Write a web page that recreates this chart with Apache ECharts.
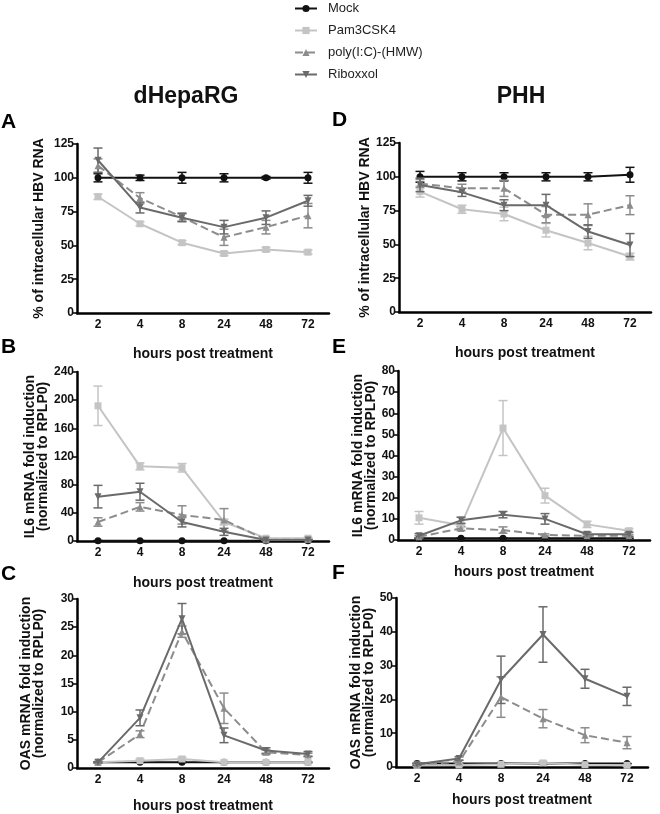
<!DOCTYPE html>
<html><head><meta charset="utf-8">
<script src="https://cdn.jsdelivr.net/npm/echarts@6/dist/echarts.min.js"></script>
<style>html,body{margin:0;padding:0;background:#fff}#c{width:660px;height:814px}</style>
</head><body><div id="c"></div>
<script>
const categories = ['2','4','8','24','48','72'];
const seriesNames = ['Mock','Pam3CSK4','poly(I:C)-(HMW)','Riboxxol'];

// Panel A: dHepaRG, % intracellular HBV RNA
const aMock = [100,100,100,100,100,100];     const aMockErr = [3,2,4,3,1,4];
const aPam  = [86,66,52,44,47,45];           const aPamErr  = [2,1.5,1.5,1.5,1.5,1.5];
const aPoly = [109,85,71,56,63.5,72];        const aPolyErr = [5,4,3,6,5,9];
const aRib  = [113,78,70.5,63.5,70.5,83];    const aRibErr  = [9,4,3,5,5,4];
// Panel D: PHH, % intracellular HBV RNA
const dMock = [100,100,100,100,100,101.5];   const dMockErr = [4,3,3,3,3,5.5];
const dPam  = [89,76,72.5,60.5,51,41];       const dPamErr  = [4,3,5,5,5,2.5];
const dPoly = [95,91.5,91.5,72,72,79];       const dPolyErr = [3,3,6,6,8,7];
const dRib  = [94,88.5,79,79,59.5,49.5];     const dRibErr  = [5,3,4,8,5,8.5];
// Panel B: dHepaRG, IL6
const bMock = [0.5,0.5,0.5,0.5,0.5,0.5];     const bMockErr = [0,0,0,0,0,0];
const bPam  = [192,106,104,27,4,4];          const bPamErr  = [28,5,6,4,1,1];
const bPoly = [27,48.5,37,30,1.5,2];         const bPolyErr = [6,6,13,16,0.5,0.5];
const bRib  = [63,70,27,13,1.5,1.5];         const bRibErr  = [16,12,7,5,0.5,0.5];
// Panel E: PHH, IL6
const eMock = [0.8,0.8,0.8,0.8,0.8,0.8];     const eMockErr = [0,0,0,0,0,0];
const ePam  = [10.5,7,53,21,7.4,4.4];        const ePamErr  = [3,1,13,3.5,1.5,1];
const ePoly = [1.5,5.5,4.7,2.4,2,2];         const ePolyErr = [0.5,1,1.5,0.5,0.5,0.5];
const eRib  = [2,9.3,12,10,2.7,2.7];         const eRibErr  = [1,1.5,1.5,2.5,1,1];
// Panel C: dHepaRG, OAS
const cMock = [1,1,1,1,1,1];                 const cMockErr = [0,0,0,0,0,0];
const cPam  = [1,1.3,1.6,1.0,1.0,1.0];       const cPamErr  = [0.1,0.3,0.3,0.1,0.1,0.1];
const cPoly = [1,6,24.2,10.6,2.8,2.3];       const cPolyErr = [0.1,0.6,1,2.7,0.4,0.3];
const cRib  = [1,8.9,26.5,5.8,3.1,2.5];      const cRibErr  = [0.1,1.4,2.7,1.3,0.5,0.4];
// Panel F: PHH, OAS
const fMock = [1,1,1,1,1,1];                 const fMockErr = [0,0,0,0,0,0];
const fPam  = [0.5,0.6,0.8,1.2,0.7,0.5];     const fPamErr  = [0.2,0.2,0.3,0.5,0.2,0.2];
const fPoly = [0.8,1.5,20.7,14.3,9.4,7.2];   const fPolyErr = [0.3,0.5,6,2.7,2.2,1.8];
const fRib  = [0.8,2.5,25.8,39.2,26.1,20.9]; const fRibErr  = [0.3,0.5,7,8.2,2.8,2.7];

const panels = [
  {letter:'A', left:77,  top:144, max:125, interval:25, name:'% of intracellular HBV RNA', gap:31, xgap:34, data:[aMock,aPam,aPoly,aRib], err:[aMockErr,aPamErr,aPolyErr,aRibErr]},
  {letter:'B', left:77,  top:372, max:240, interval:40, name:'IL6 mRNA fold induction\n(normalized to RPLP0)', gap:24, xgap:35, data:[bMock,bPam,bPoly,bRib], err:[bMockErr,bPamErr,bPolyErr,bRibErr]},
  {letter:'C', left:77,  top:599, max:30,  interval:5,  name:'OAS mRNA fold induction\n(normalized to RPLP0)', gap:31, xgap:31, data:[cMock,cPam,cPoly,cRib], err:[cMockErr,cPamErr,cPolyErr,cRibErr]},
  {letter:'D', left:399, top:143, max:125, interval:25, name:'% of intracellular HBV RNA', gap:23, xgap:34, data:[dMock,dPam,dPoly,dRib], err:[dMockErr,dPamErr,dPolyErr,dRibErr]},
  {letter:'E', left:398, top:371, max:80,  interval:10, name:'IL6 mRNA fold induction\n(normalized to RPLP0)', gap:16, xgap:25, data:[eMock,ePam,ePoly,eRib], err:[eMockErr,ePamErr,ePolyErr,eRibErr]},
  {letter:'F', left:396, top:598, max:50,  interval:10, name:'OAS mRNA fold induction\n(normalized to RPLP0)', gap:13, xgap:26, data:[fMock,fPam,fPoly,fRib], err:[fMockErr,fPamErr,fPolyErr,fRibErr]}
];

const colors = ['#111111','#c4c4c4','#8c8c8c','#6a6a6a'];
const symbols = ['circle','rect','triangle','triangle'];
const rotates = [0,0,0,180];
const dashes = ['solid','solid','dashed','solid'];
const FONT = 'Liberation Sans, Arial, sans-serif';

const grids = [], xAxes = [], yAxes = [], series = [], errSeries = [];
panels.forEach((p, k) => {
  grids.push({left:p.left, top:p.top, width:252, height:169});
  xAxes.push({
    type:'category', gridIndex:k, data:categories, boundaryGap:true,
    name:'hours post treatment', nameLocation:'middle', nameGap:p.xgap,
    nameTextStyle:{fontFamily:FONT, fontWeight:'bold', fontSize:14, color:'#111'},
    axisLine:{lineStyle:{color:'#000', width:2.5}},
    axisTick:{alignWithLabel:true, length:4, lineStyle:{color:'#000', width:1.5}},
    axisLabel:{fontFamily:FONT, fontWeight:'bold', fontSize:12, color:'#111', margin:6},
    splitLine:{show:false}
  });
  yAxes.push({
    type:'value', gridIndex:k, min:0, max:p.max, interval:p.interval,
    name:p.name, nameLocation:'middle', nameGap:p.gap, nameRotate:90,
    nameTextStyle:{fontFamily:FONT, fontWeight:'bold', fontSize:14, color:'#111', lineHeight:13},
    axisLine:{show:true, lineStyle:{color:'#000', width:2.5}},
    axisTick:{show:true, length:4, lineStyle:{color:'#000', width:1.5}},
    axisLabel:{fontFamily:FONT, fontWeight:'bold', fontSize:12, color:'#111', margin:3},
    splitLine:{show:false}
  });
  p.data.forEach((vals, s) => {
    const errs = p.err[s];
    errSeries.push({
      type:'custom', xAxisIndex:k, yAxisIndex:k, name:seriesNames[s]+' error', z:2 + s,
      clip:false,
      data: vals.map((v,i) => [i, v - errs[i], v + errs[i]]),
      encode:{x:0, y:[1,2]},
      renderItem: function(params, api) {
        const lo = api.coord([api.value(0), api.value(1)]);
        const hi = api.coord([api.value(0), api.value(2)]);
        const w = 4.5;
        const st = {stroke:colors[s], lineWidth:1.5};
        return {type:'group', children:[
          {type:'line', shape:{x1:lo[0], y1:lo[1], x2:hi[0], y2:hi[1]}, style:st},
          {type:'line', shape:{x1:lo[0]-w, y1:lo[1], x2:lo[0]+w, y2:lo[1]}, style:st},
          {type:'line', shape:{x1:hi[0]-w, y1:hi[1], x2:hi[0]+w, y2:hi[1]}, style:st}
        ]};
      }
    });
    series.push({
      type:'line', xAxisIndex:k, yAxisIndex:k, name:seriesNames[s], data:vals,
      symbol:symbols[s], symbolSize:7, symbolRotate:rotates[s], z:3 + s,
      lineStyle:{color:colors[s], width:2, type:dashes[s]},
      itemStyle:{color:colors[s]}, showSymbol:true, animation:false, clip:false
    });
  });
});

const titles = [
  {text:'dHepaRG', left:181, top:80, textAlign:'center', textStyle:{fontFamily:FONT, fontWeight:'bold', fontSize:23, color:'#111'}},
  {text:'PHH', left:516, top:80, textAlign:'center', textStyle:{fontFamily:FONT, fontWeight:'bold', fontSize:23, color:'#111'}}
];
const letterPos = [[1,112],[1,337],[1,564],[332,110],[332,337],[332,563]];
panels.forEach((p,k) => {
  titles.push({text:p.letter, left:letterPos[k][0], top:letterPos[k][1], padding:0, textStyle:{fontFamily:FONT, fontWeight:'bold', fontSize:21, color:'#000'}});
});

const chart = echarts.init(document.getElementById('c'), null, {renderer:'canvas'});
chart.setOption({
  animation:false,
  backgroundColor:'#fff',
  title:titles,
  legend:{
    orient:'vertical', left:294, top:2, padding:0, itemGap:9, itemWidth:22, itemHeight:9,
    data:seriesNames,
    textStyle:{fontFamily:FONT, fontSize:13, color:'#222', padding:[0,0,0,6]}
  },
  grid:grids, xAxis:xAxes, yAxis:yAxes,
  series: errSeries.concat(series)
});
</script>
</body></html>
